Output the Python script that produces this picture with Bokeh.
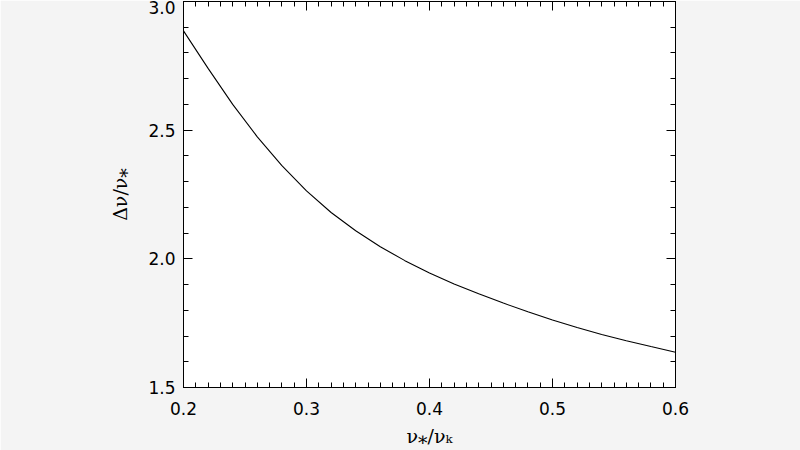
from bokeh.plotting import figure
from bokeh.models import LinearAxis, FixedTicker, Range1d, BoxAnnotation, PrintfTickFormatter, CustomJSTickFormatter
from bokeh.embed import file_html
from bokeh.resources import INLINE

# data
x_ratio = [0.20, 0.22, 0.24, 0.26, 0.28, 0.30, 0.32, 0.34, 0.36, 0.38, 0.40,
           0.42, 0.44, 0.46, 0.48, 0.50, 0.52, 0.54, 0.56, 0.58, 0.60]
dnu_ratio = [2.886, 2.740, 2.600, 2.474, 2.362, 2.264, 2.180, 2.109, 2.047, 1.993, 1.945,
             1.902, 1.864, 1.828, 1.794, 1.762, 1.733, 1.706, 1.682, 1.659, 1.637]

x_major = [0.2, 0.3, 0.4, 0.5, 0.6]
y_major = [1.5, 2.0, 2.5, 3.0]
x_minor = [round(0.2 + 0.01 * i, 2) for i in range(41)]
y_minor = [round(1.5 + 0.1 * i, 1) for i in range(16)]

x_title = "\u03bd\u204e/\u03bd\u2096"
y_title = "\u0394\u03bd/\u03bd\u204e"

W, H = 800, 450
p = figure(width=W, height=H, output_backend="svg", toolbar_location=None,
           x_range=Range1d(0.2, 0.6), y_range=Range1d(1.5, 3.0),
           min_border_left=183, min_border_right=125, min_border_top=1, min_border_bottom=63,
           x_axis_location=None, y_axis_location=None)
p.xgrid.visible = False
p.ygrid.visible = False
p.outline_line_color = "black"
p.border_fill_color = "#f4f4f4"
p.background_fill_color = "white"

p.add_layout(BoxAnnotation(left=110, right=690, top=0, bottom=H,
                           left_units="screen", right_units="screen",
                           top_units="screen", bottom_units="screen",
                           fill_color="white", fill_alpha=1.0, line_alpha=0,
                           level="underlay"))

def style_axis(ax, labels=True):
    ax.axis_line_color = "black"
    ax.major_tick_line_color = "black"
    ax.minor_tick_line_color = "black"
    ax.major_tick_in = 9
    ax.major_tick_out = 0
    ax.minor_tick_in = 5
    ax.minor_tick_out = 0
    if labels:
        ax.major_label_text_font = "DejaVu Sans"
        ax.major_label_text_font_size = "17px"
        ax.major_label_text_color = "black"
        ax.axis_label_text_font = "DejaVu Serif"
        ax.axis_label_text_font_size = "19px"
        ax.axis_label_text_font_style = "normal"
        ax.axis_label_text_color = "black"
    else:
        ax.formatter = CustomJSTickFormatter(code="return ''")
        ax.major_label_standoff = 0

xt = FixedTicker(ticks=x_major, minor_ticks=x_minor)
yt = FixedTicker(ticks=y_major, minor_ticks=y_minor)

xb = LinearAxis(ticker=xt, axis_label=x_title, formatter=PrintfTickFormatter(format="%.1f"))
style_axis(xb)
xb.major_label_standoff = 14
xb.axis_label_standoff = 7
p.add_layout(xb, "below")

yl = LinearAxis(ticker=yt, axis_label=y_title, formatter=PrintfTickFormatter(format="%.1f"))
style_axis(yl)
yl.major_label_standoff = 8
yl.axis_label_standoff = 14
p.add_layout(yl, "left")

xa = LinearAxis(ticker=xt)
style_axis(xa, labels=False)
p.add_layout(xa, "above")

yr = LinearAxis(ticker=yt)
style_axis(yr, labels=False)
p.add_layout(yr, "right")

p.line(x_ratio, dnu_ratio, line_color="black", line_width=1.1)

open("out.html", "w").write(file_html(p, INLINE))
